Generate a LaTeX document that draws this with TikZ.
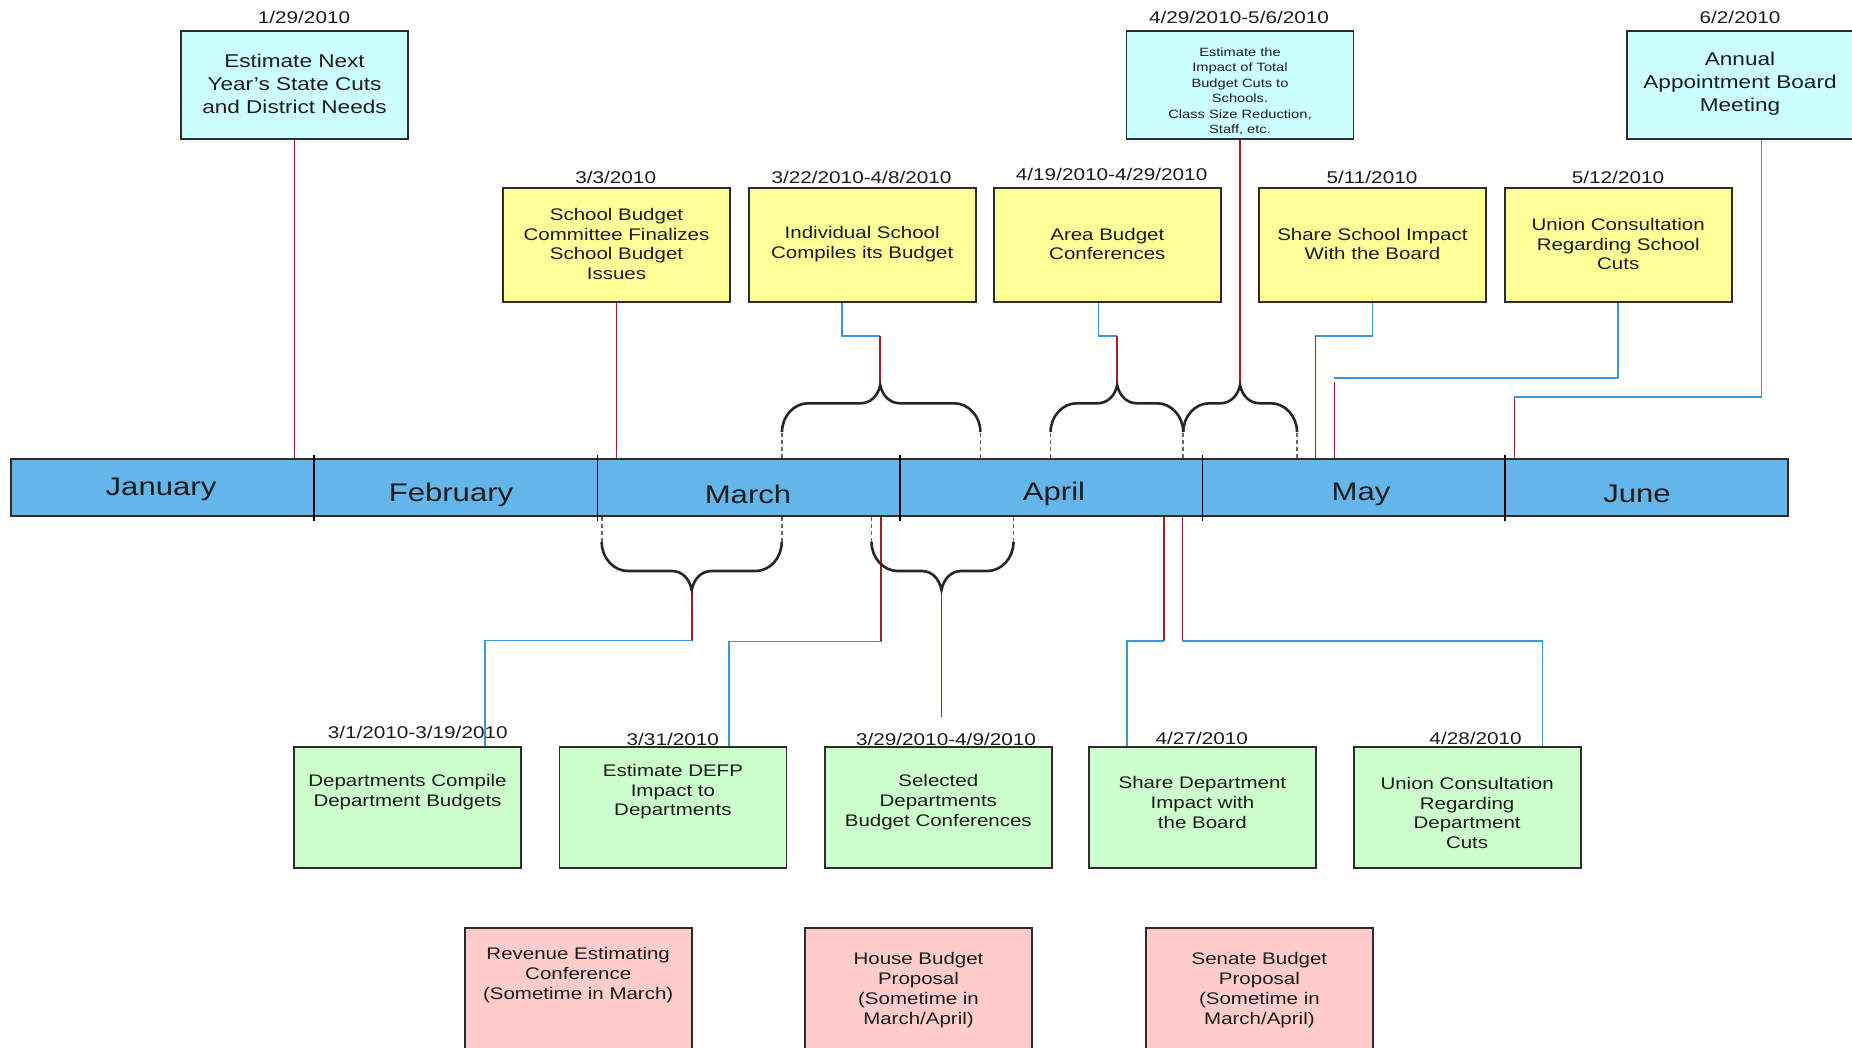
\documentclass[tikz,border=0pt]{standalone}
\usepackage{fontspec}
\setmainfont{Liberation Sans}[FakeStretch=1.22]
\usetikzlibrary{calc}
\definecolor{ink}{RGB}{28,28,28}
\definecolor{edge}{RGB}{45,45,45}
\definecolor{cyanfill}{RGB}{204,255,255}
\definecolor{yelfill}{RGB}{255,255,153}
\definecolor{grnfill}{RGB}{204,255,204}
\definecolor{pinkfill}{RGB}{255,204,204}
\definecolor{barfill}{RGB}{100,181,233}
\definecolor{linkred}{RGB}{165,30,40}
\definecolor{linkblue}{RGB}{55,150,220}
\newcommand\bracepath[6]{%
  \draw[bracestyle] (#1,#4) .. controls (#1,{#4+0.55*(#5-#4)}) and ({#1+12},#5) .. ({#1+26},#5)
   -- ({#2-20},#5) .. controls ({#2-9},#5) and ({#2-2},{#5+0.45*(#6-#5)}) .. (#2,#6)
   .. controls ({#2+2},{#5+0.45*(#6-#5)}) and ({#2+9},#5) .. ({#2+20},#5)
   -- ({#3-26},#5) .. controls ({#3-12},#5) and (#3,{#4+0.55*(#5-#4)}) .. (#3,#4);}
\begin{document}
\begin{tikzpicture}[x=1pt,y=-1pt,
  box/.style={draw=edge, line width=1.8pt, minimum width=227, inner sep=0pt},
  cbox/.style={box, fill=cyanfill, minimum height=108},
  ybox/.style={box, fill=yelfill, minimum height=114},
  gbox/.style={box, fill=grnfill, minimum height=121},
  pbox/.style={box, fill=pinkfill, minimum height=132},
  txt/.style={align=center, text=ink, inner sep=0pt, font=\fontsize{16.8}{19.8}\selectfont},
  bigtxt/.style={txt, font=\fontsize{18.5}{22.8}\selectfont},
  smalltxt/.style={txt, font=\fontsize{12}{15.4}\selectfont},
  datelbl/.style={text=ink, anchor=base, inner sep=0pt, font=\fontsize{17}{20}\selectfont},
  monthlbl/.style={text=ink, anchor=base, inner sep=0pt, font=\fontsize{25.5}{30}\selectfont},
  redline/.style={draw=linkred, line width=1.6pt},
  blueline/.style={draw=linkblue, line width=1.8pt},
  bracestyle/.style={draw=black!85, line width=2.6pt},
  dashlink/.style={draw=black!60, line width=1.6pt, dash pattern=on 4pt off 3pt},
  divider/.style={draw=black, line width=1.5pt}]
\useasboundingbox[fill=white] (0,0) rectangle (1852,1048);

% ---------- coordinates for connector bends ----------
\coordinate (tipA) at (880.2,385);
\coordinate (kA) at (880.2,335.7);
\coordinate (tipB) at (1117.2,385);
\coordinate (kB) at (1117.2,335.7);
\coordinate (tipC) at (1240,385);
\coordinate (k4) at (1315.3,335.7);
\coordinate (k5) at (1334.3,377.7);
\coordinate (k5r) at (1334.3,381.7);
\coordinate (k6) at (1514.3,397.3);
\coordinate (tipD) at (691.7,590);
\coordinate (kD) at (691.7,640.5);
\coordinate (kG2) at (880.7,641.5);
\coordinate (tipE) at (941.5,590);
\coordinate (eE) at (941.5,716.7);
\coordinate (kG4) at (1164.1,640.7);
\coordinate (kG5) at (1182.3,640.7);

% ---------- boxes (named) ----------
\node[cbox] (B1) at (294.5,85) {};
\node[cbox] (M) at (1240,85) {};
\node[cbox] (A) at (1740.5,85) {};

\node[ybox] (Y1) at (616.5,245) {};
\node[ybox] (Y2) at (862.2,245) {};
\node[ybox] (Y3) at (1107.3,245) {};
\node[ybox] (Y4) at (1372.4,245) {};
\node[ybox] (Y5) at (1618.2,245) {};

\node[gbox] (G1) at (407.5,807.5) {};
\node[gbox] (G2) at (672.9,807.5) {};
\node[gbox] (G3) at (938.3,807.5) {};
\node[gbox] (G4) at (1202.4,807.5) {};
\node[gbox] (G5) at (1467.1,807.5) {};

\node[pbox] (P1) at (578.2,994) {};
\node[pbox] (P2) at (918.5,994) {};
\node[pbox] (P3) at (1259.4,994) {};

% ---------- connectors ----------
\draw[redline] (B1.south) -- (B1.south |- 0,459);
\draw[redline] (Y1.south) -- (Y1.south |- 0,459);
\draw[blueline] ([xshift=-20pt]Y2.south) |- (kA);
\draw[redline] (kA) -- (tipA);
\draw[blueline] ([xshift=-8.8pt]Y3.south) |- (kB);
\draw[redline] (kB) -- (tipB);
\draw[redline] (M.south) -- (tipC);
\draw[blueline] (Y4.south) |- (k4);
\draw[redline] (k4) -- (k4 |- 0,459);
\draw[blueline] (Y5.south) |- (k5);
\draw[redline] (k5r) -- (k5r |- 0,459);
\draw[blueline] ([xshift=21pt]A.south) |- (k6);
\draw[redline] (k6) -- (k6 |- 0,459);

\draw[redline] (tipD) -- (kD);
\draw[blueline] (kD) -| ([xshift=77.2pt]G1.north);
\draw[redline] (kG2 |- 0,516) -- (kG2);
\draw[blueline] (kG2) -| ([xshift=56.1pt]G2.north);
\draw[redline] (tipE) -- (eE);
\draw[redline] (kG4 |- 0,516) -- (kG4);
\draw[blueline] (kG4) -| ([xshift=-75.4pt]G4.north);
\draw[redline] (kG5 |- 0,516) -- (kG5);
\draw[blueline] (kG5) -| ([xshift=75.3pt]G5.north);

% ---------- braces ----------
\bracepath{782}{880.2}{980.4}{432}{403.3}{385}
\bracepath{1050.6}{1117.2}{1183.2}{432}{403.3}{385}
\bracepath{1183.2}{1240}{1297}{432}{403.3}{385}
\bracepath{601.7}{691.7}{781.7}{542}{571}{590}
\bracepath{871.5}{941.5}{1013.5}{542}{571}{590}
\foreach \xx in {782,980.4,1050.6,1183.2,1297}
  \draw[dashlink] (\xx,458) -- (\xx,432);
\foreach \xx in {601.7,781.7,871.5,1013.5}
  \draw[dashlink] (\xx,517) -- (\xx,542);

% ---------- timeline bar ----------
\node[draw=edge, line width=1.8pt, fill=barfill, minimum width=1777, minimum height=57, inner sep=0pt] (bar) at (899.5,487.5) {};
\foreach \xx in {313.8,597.7,899.9,1202.7,1504.8}
  \draw[divider] (\xx,455) -- (\xx,521);
\node[monthlbl] (mJan) at (161,495) {January};
\node[monthlbl] (mFeb) at (451,501) {February};
\node[monthlbl] (mMar) at (748,503) {March};
\node[monthlbl] (mApr) at (1054,500) {April};
\node[monthlbl] (mMay) at (1361,500) {May};
\node[monthlbl] (mJun) at (1637,502) {June};

% ---------- box texts ----------
\node[bigtxt] (B1t) at (294.5,84) {Estimate Next\\Year's State Cuts\\and District Needs};
\node[smalltxt] (Mt) at (1240,91.5) {Estimate the\\Impact of Total\\Budget Cuts to\\Schools.\\Class Size Reduction,\\Staff, etc.};
\node[bigtxt] (At) at (1740,84) {Annual\\Appointment Board\\Meeting};

\node[txt] (Y1t) at (616.5,244) {School Budget\\Committee Finalizes\\School Budget\\Issues};
\node[txt] (Y2t) at (862.2,244) {Individual School\\Compiles its Budget};
\node[txt] (Y3t) at (1107.3,244) {Area Budget\\Conferences};
\node[txt] (Y4t) at (1372.4,244) {Share School Impact\\With the Board};
\node[txt] (Y5t) at (1618.2,244) {Union Consultation\\Regarding School\\Cuts};

\node[txt] (G1t) at (407.5,792) {Departments Compile\\Department Budgets};
\node[txt] (G2t) at (672.9,791.7) {Estimate DEFP\\Impact to\\Departments};
\node[txt] (G3t) at (938.3,802.3) {Selected\\Departments\\Budget Conferences};
\node[txt] (G4t) at (1202.4,802.3) {Share Department\\Impact with\\the Board};
\node[txt] (G5t) at (1467.1,813) {Union Consultation\\Regarding\\Department\\Cuts};

\node[txt] (P1t) at (578.2,975) {Revenue Estimating\\Conference\\(Sometime in March)};
\node[txt] (P2t) at (918.5,990) {House Budget\\Proposal\\(Sometime in\\March/April)};
\node[txt] (P3t) at (1259.4,990) {Senate Budget\\Proposal\\(Sometime in\\March/April)};

% ---------- dates ----------
\node[datelbl] (d1) at (304,24) {1/29/2010};
\node[datelbl] (d2) at (1239,24) {4/29/2010-5/6/2010};
\node[datelbl] (d3) at (1740,24) {6/2/2010};
\node[datelbl] (d4) at (615.7,184) {3/3/2010};
\node[datelbl] (d5) at (861.5,184) {3/22/2010-4/8/2010};
\node[datelbl] (d6) at (1111.6,181) {4/19/2010-4/29/2010};
\node[datelbl] (d7) at (1372,184) {5/11/2010};
\node[datelbl] (d8) at (1618,184) {5/12/2010};
\node[datelbl] (d9) at (417.7,738.7) {3/1/2010-3/19/2010};
\node[datelbl] (d10) at (672.8,745) {3/31/2010};
\node[datelbl] (d11) at (946,745) {3/29/2010-4/9/2010};
\node[datelbl] (d12) at (1201.8,744) {4/27/2010};
\node[datelbl] (d13) at (1475.6,744) {4/28/2010};
\end{tikzpicture}
\end{document}
